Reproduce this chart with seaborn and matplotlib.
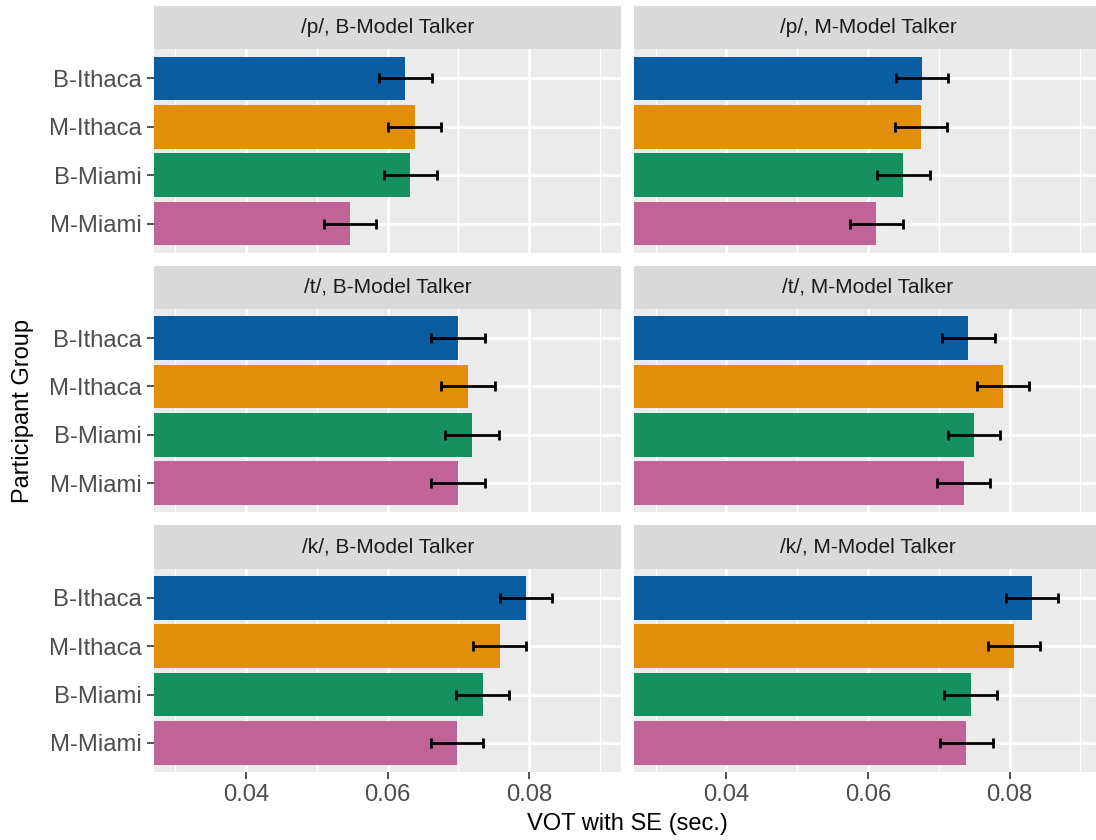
import numpy as np
import pandas as pd
import matplotlib
matplotlib.use('Agg')
import matplotlib.pyplot as plt
import seaborn as sns

# groups / facets
groups = ['B-Ithaca', 'M-Ithaca', 'B-Miami', 'M-Miami']
group_colors = ['#0B5DA2', '#E08E0B', '#168F61', '#C06396']
stops = ['/p/', '/t/', '/k/']
talkers = ['B-Model Talker', 'M-Model Talker']

# mean VOT (sec.)
vot_p_b = [0.0625, 0.0638, 0.0632, 0.0547]
vot_p_m = [0.0676, 0.0675, 0.0650, 0.0612]
vot_t_b = [0.0699, 0.0713, 0.0719, 0.0699]
vot_t_m = [0.0742, 0.0791, 0.0750, 0.0735]
vot_k_b = [0.0795, 0.0758, 0.0734, 0.0698]
vot_k_m = [0.0832, 0.0806, 0.0745, 0.0739]

# standard errors
se_p_b = [0.0037, 0.0037, 0.0037, 0.0037]
se_p_m = [0.0037, 0.0037, 0.0037, 0.0037]
se_t_b = [0.0038, 0.0038, 0.0038, 0.0038]
se_t_m = [0.0037, 0.0037, 0.0037, 0.0037]
se_k_b = [0.0037, 0.0037, 0.0037, 0.0037]
se_k_m = [0.0037, 0.0037, 0.0037, 0.0037]

vot = [[vot_p_b, vot_p_m], [vot_t_b, vot_t_m], [vot_k_b, vot_k_m]]
se = [[se_p_b, se_p_m], [se_t_b, se_t_m], [se_k_b, se_k_m]]

sns.set_style('white')
plt.rcParams['font.family'] = ['Liberation Sans', 'DejaVu Sans']

W, H = 1096, 840
fig = plt.figure(figsize=(W / 100, H / 100), dpi=100)


def px_axes(x0, y0, w, h):
    # place axes using pixel coords measured from top-left
    return fig.add_axes([x0 / W, 1 - (y0 + h) / H, w / W, h / H])


col_x = [154, 634.3]
panel_w = 467.3
strip_h = 43.3
panel_h = 203.3
row_pitch = 259.7

for r, stop in enumerate(stops):
    for c, talker in enumerate(talkers):
        top = 6 + r * row_pitch
        # facet strip
        sax = px_axes(col_x[c], top, panel_w, strip_h)
        sax.set_facecolor('#D9D9D9')
        sax.set_xticks([])
        sax.set_yticks([])
        for s in sax.spines.values():
            s.set_visible(False)
        sax.text(0.5, 0.5, f'{stop}, {talker}', ha='center', va='center',
                 fontsize=15, color='#1A1A1A', transform=sax.transAxes)

        ax = px_axes(col_x[c], top + strip_h, panel_w, panel_h)
        df = pd.DataFrame({'group': groups, 'vot': vot[r][c]})
        sns.barplot(data=df, x='vot', y='group', hue='group', palette=group_colors,
                    order=groups, hue_order=groups, width=0.9, saturation=1,
                    linewidth=0, legend=False, ax=ax)
        ax.errorbar(vot[r][c], np.arange(len(groups)), xerr=se[r][c], fmt='none',
                    ecolor='black', elinewidth=2, capsize=3.6, capthick=2, zorder=5)

        ax.set_xlim(0.027, 0.093)
        ax.set_ylim(3.6, -0.6)
        ax.set_facecolor('#EBEBEB')
        ax.set_xticks([0.04, 0.06, 0.08])
        ax.set_xticklabels(['0.04', '0.06', '0.08'])
        ax.set_xticks([0.03, 0.05, 0.07, 0.09], minor=True)
        ax.grid(which='major', color='white', linewidth=1.9)
        ax.grid(which='minor', axis='x', color='white', linewidth=0.95)
        ax.set_axisbelow(True)
        for s in ax.spines.values():
            s.set_visible(False)
        ax.set_xlabel('')
        ax.set_ylabel('')
        ax.tick_params(which='minor', length=0)
        ax.tick_params(which='major', length=5, width=1.2, color='#333333',
                       labelcolor='#4D4D4D', labelsize=17.2, pad=3.5,
                       left=True, bottom=True)
        if c == 1:
            ax.tick_params(axis='y', left=False, labelleft=False)
        if r < 2:
            ax.tick_params(axis='x', bottom=False, labelbottom=False)

fig.text(627.8 / W, 1 - 824 / H, 'VOT with SE (sec.)', ha='center', va='center',
         fontsize=17, color='black')
fig.text(23 / W, 1 - 410.5 / H, 'Participant Group', ha='center', va='center',
         rotation=90, fontsize=17, color='black')

fig.savefig('out.png', dpi=100)
